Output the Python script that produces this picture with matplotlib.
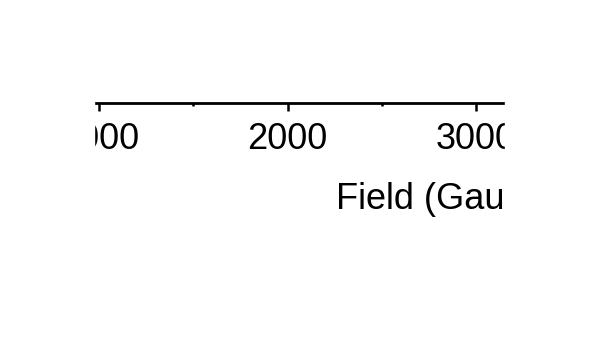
import matplotlib.pyplot as plt
from matplotlib.patches import Rectangle

# axis content (cropped view of a field sweep axis)
major_ticks = [1000, 2000, 3000]
minor_ticks = [1500, 2500]
x_range = [973, 3154]
x_label = "Field (Gauss)"

plt.rcParams['font.family'] = ['Liberation Sans', 'DejaVu Sans']

W, H = 600, 338
fig = plt.figure(figsize=(W / 100, H / 100), dpi=100)
ax = fig.add_axes([94 / W, (H - 103.5) / H, (505 - 94) / W, 0.2])

ax.set_xlim(x_range)
ax.set_ylim(0, 1)
ax.set_xticks(major_ticks)
ax.set_xticks(minor_ticks, minor=True)
ax.set_yticks([])
for side in ['top', 'left', 'right']:
    ax.spines[side].set_visible(False)
ax.spines['bottom'].set_linewidth(2.0)
ax.tick_params(axis='x', which='major', direction='out', length=5.5, width=1.8,
               labelsize=26, pad=7.5)
ax.tick_params(axis='x', which='minor', direction='out', length=2.5, width=1.8)

ax.set_xlabel(x_label, fontsize=26, ha='left', labelpad=18)
ax.xaxis.label.set_x((336 - 94) / (505 - 94))

# the reference is a crop: blank out everything outside the visible strip
fig.add_artist(Rectangle((0, 0), 94 / W, 1, transform=fig.transFigure,
                         color='white', zorder=10))
fig.add_artist(Rectangle((505 / W, 0), 1, 1, transform=fig.transFigure,
                         color='white', zorder=10))

fig.savefig('out.png', dpi=100, facecolor='white')
